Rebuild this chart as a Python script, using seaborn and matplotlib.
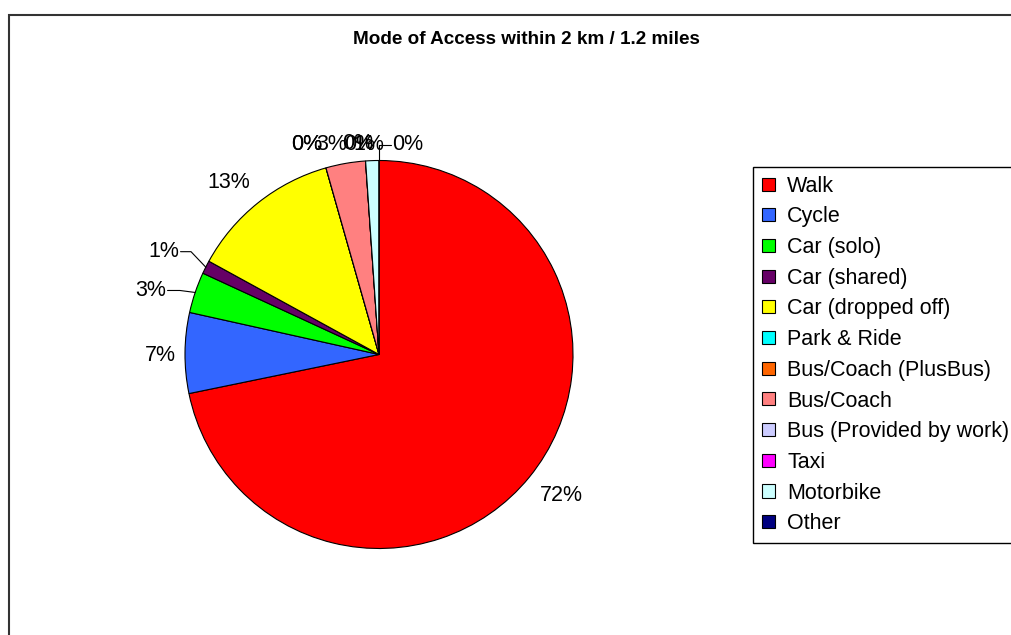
import matplotlib
matplotlib.use("Agg")
import matplotlib.pyplot as plt
import seaborn as sns
from matplotlib.patches import Rectangle
import math

# ---- data ----
categories = ["Walk", "Cycle", "Car (solo)", "Car (shared)", "Car (dropped off)",
              "Park & Ride", "Bus/Coach (PlusBus)", "Bus/Coach",
              "Bus (Provided by work)", "Taxi", "Motorbike", "Other"]
shares = [71.7, 6.7, 3.4, 1.1, 12.6, 0.0, 0.0, 3.3, 0.0, 0.0, 1.1, 0.0]
colors = ["#FF0000", "#3366FF", "#00FF00", "#660066", "#FFFF00", "#00FFFF",
          "#FF6600", "#FF8080", "#CCCCFF", "#FF00FF", "#CCFFFF", "#000080"]
title = "Mode of Access within 2 km / 1.2 miles"

# ---- layout (label anchor positions in pie-radius units) ----
label_layout = [
    (0.942, -0.727, "center"),   # Walk
    (-1.129, -0.005, "center"),  # Cycle
    (-1.095, 0.330, "right"),    # Car (solo)
    (-1.028, 0.530, "right"),    # Car (shared)
    (-0.777, 0.888, "center"),   # Car (dropped off)
    (-0.374, 1.080, "center"),   # Park & Ride
    (-0.374, 1.080, "center"),   # PlusBus
    (-0.242, 1.085, "center"),   # Bus/Coach
    (-0.112, 1.090, "center"),   # Provided
    (-0.100, 1.080, "center"),   # Taxi
    (-0.052, 1.085, "center"),   # Motorbike
    (0.068, 1.080, "left"),      # Other
]

sns.set_theme(style="white")
plt.rcParams["font.family"] = ["Liberation Sans", "DejaVu Sans"]
plt.rcParams["text.color"] = "black"

W, H = 1011, 635
fig = plt.figure(figsize=(W / 100, H / 100), dpi=100)
fig.patch.set_facecolor("white")

# chart-area border (extends beyond the right/bottom of the image)
fig.patches.append(Rectangle((9 / W, -0.2), 1.2, (H - 15) / H + 0.2,
                             transform=fig.transFigure, fill=False,
                             edgecolor="#333333", linewidth=1.5))

cx, cy, R = 379, 354.5, 194
ax = fig.add_axes([(cx - R) / W, (H - cy - R) / H, 2 * R / W, 2 * R / H])
ax.set_facecolor("none")

wedges, texts, autotexts = ax.pie(
    shares, colors=colors, startangle=90, counterclock=False,
    autopct="%.0f%%", pctdistance=1.1, radius=1,
    wedgeprops=dict(edgecolor="black", linewidth=0.8),
    textprops=dict(fontsize=15.5, color="black"))
ax.set_xlim(-1, 1)
ax.set_ylim(-1, 1)
ax.set_aspect("auto")
ax.axis("off")

for at, (lx, ly, ha) in zip(autotexts, label_layout):
    at.set_position((lx, ly))
    at.set_ha(ha)
    at.set_va("center")
    at.set_clip_on(False)

def edge_point(w):
    mid = math.radians((w.theta1 + w.theta2) / 2)
    return math.cos(mid), math.sin(mid)

# leader lines
for idx, kink in [(2, -1.026), (3, -0.969)]:
    lx, ly, _ = label_layout[idx]
    ex, ey = edge_point(wedges[idx])
    ax.plot([lx + 0.005, kink, ex], [ly, ly, ey], color="black", lw=0.8,
            clip_on=False)
lx, ly, _ = label_layout[11]
ex, ey = edge_point(wedges[11])
ax.plot([lx - 0.005, ex, ex], [ly, ly, ey], color="black", lw=0.8, clip_on=False)

fig.text(526 / W, 1 - 39 / H, title, ha="center", va="center",
         fontsize=13.6, fontweight="bold", color="black")

leg = fig.legend(wedges, categories, loc="upper left",
                 bbox_to_anchor=(752.7 / W, 1 - 166.7 / H),
                 bbox_transform=fig.transFigure, borderaxespad=0,
                 fontsize=15.5, frameon=True, fancybox=False, framealpha=1,
                 edgecolor="black", handlelength=0.62, handleheight=0.56,
                 handletextpad=0.57, labelspacing=0.45, borderpad=0.42)
leg.get_frame().set_linewidth(1.0)
for t in leg.get_texts():
    t.set_color("black")

fig.savefig("out.png", dpi=100)
